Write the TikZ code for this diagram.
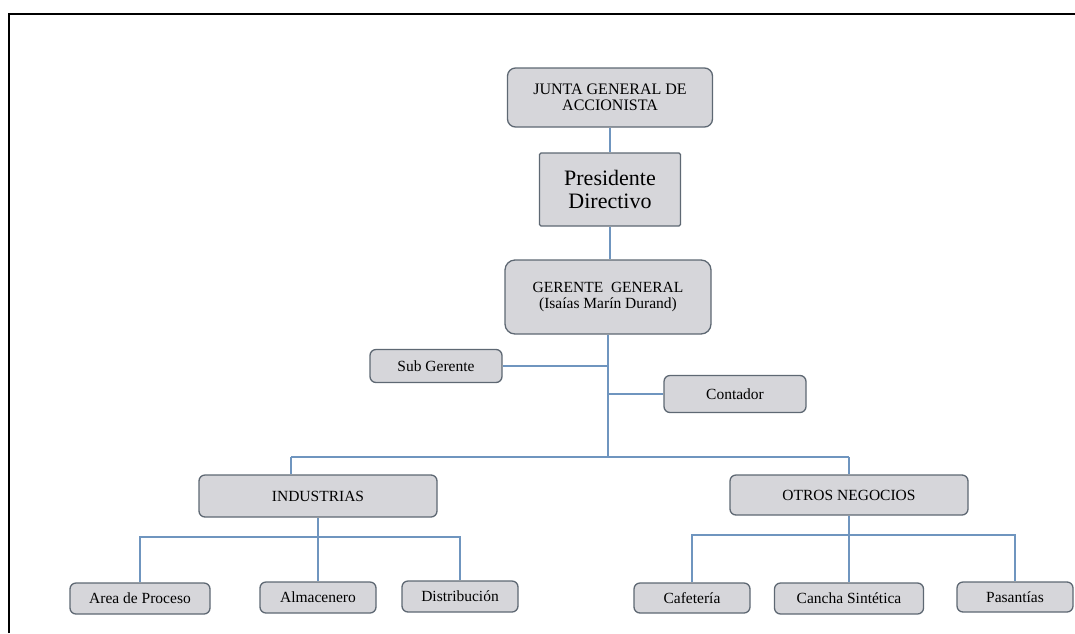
\documentclass[tikz,border=0pt]{standalone}
\usepackage{fontspec}
\setmainfont{Liberation Serif}
\definecolor{boxfill}{HTML}{D6D6DA}
\definecolor{boxline}{HTML}{5E6873}
\definecolor{conn}{HTML}{6F95BF}
\tikzset{
  x=1pt,y=-1pt,
  orgbox/.style={draw=boxline, fill=boxfill, line width=1.3pt, rounded corners=6pt, align=center, inner sep=0pt, font=\fontsize{15.5}{16}\selectfont},
  link/.style={draw=conn, line width=1.2pt},
}
\begin{document}
\begin{tikzpicture}
\useasboundingbox (0,0) rectangle (1075,633);
\draw[line width=2pt, black] (9,633) -- (9,14) -- (1075,14);

\node[orgbox, rounded corners=8pt, minimum width=205pt, minimum height=59pt, font=\fontsize{16}{16}\selectfont] (junta) at (610,97.5) {JUNTA GENERAL DE\\ACCIONISTA};
\node[orgbox, rounded corners=1.5pt, minimum width=141pt, minimum height=73pt, font=\fontsize{22}{23}\selectfont] (pres) at (610,189.5) {Presidente\\Directivo};
\node[orgbox, rounded corners=10pt, minimum width=206pt, minimum height=74pt, font=\fontsize{15.5}{16.5}\selectfont] (ger) at (608,297) {GERENTE\ \ GENERAL\\(Isaías Marín Durand)};
\node[orgbox, minimum width=132pt, minimum height=33pt] (sub) at (436,366) {Sub Gerente};
\node[orgbox, minimum width=142pt, minimum height=37pt] (cont) at (735,394) {Contador};
\node[orgbox, minimum width=238pt, minimum height=42pt] (ind) at (318,496) {INDUSTRIAS};
\node[orgbox, minimum width=238pt, minimum height=40pt] (otros) at (849,495) {OTROS NEGOCIOS};
\node[orgbox, minimum width=140pt, minimum height=31pt] (area) at (140,598.5) {Area de Proceso};
\node[orgbox, minimum width=116pt, minimum height=31pt] (alm) at (318,597.5) {Almacenero};
\node[orgbox, minimum width=116pt, minimum height=31pt] (dist) at (460,596.5) {Distribución};
\node[orgbox, minimum width=116pt, minimum height=30pt] (caf) at (692,598) {Cafetería};
\node[orgbox, minimum width=149pt, minimum height=31pt] (cancha) at (849,598.5) {Cancha Sintética};
\node[orgbox, minimum width=116pt, minimum height=30pt] (pas) at (1015,597) {Pasantías};

\coordinate (tb) at (608,457);
\coordinate (il) at (291,457);
\coordinate (ir) at (849,457);
\coordinate (ib) at (318,537);
\coordinate (ob) at (849,535);

\draw[link] (junta.south) -- (pres.north);
\draw[link] (pres.south) -- (pres.south |- ger.north);
\draw[link] (ger.south) -- (tb);
\draw[link] (sub.east) -- (sub.east -| tb);
\draw[link] (cont.west) -- (cont.west -| tb);
\draw[link] (il) -- (ir);
\draw[link] (il) -- (il |- ind.north);
\draw[link] (ir) -- (otros.north);
\draw[link] (ind.south) -- (ib);
\draw[link] (area.north) |- (ib) -| (dist.north);
\draw[link] (ib) -- (alm.north);
\draw[link] (otros.south) -- (ob);
\draw[link] (caf.north) |- (ob) -| (pas.north);
\draw[link] (ob) -- (cancha.north);
\end{tikzpicture}
\end{document}
